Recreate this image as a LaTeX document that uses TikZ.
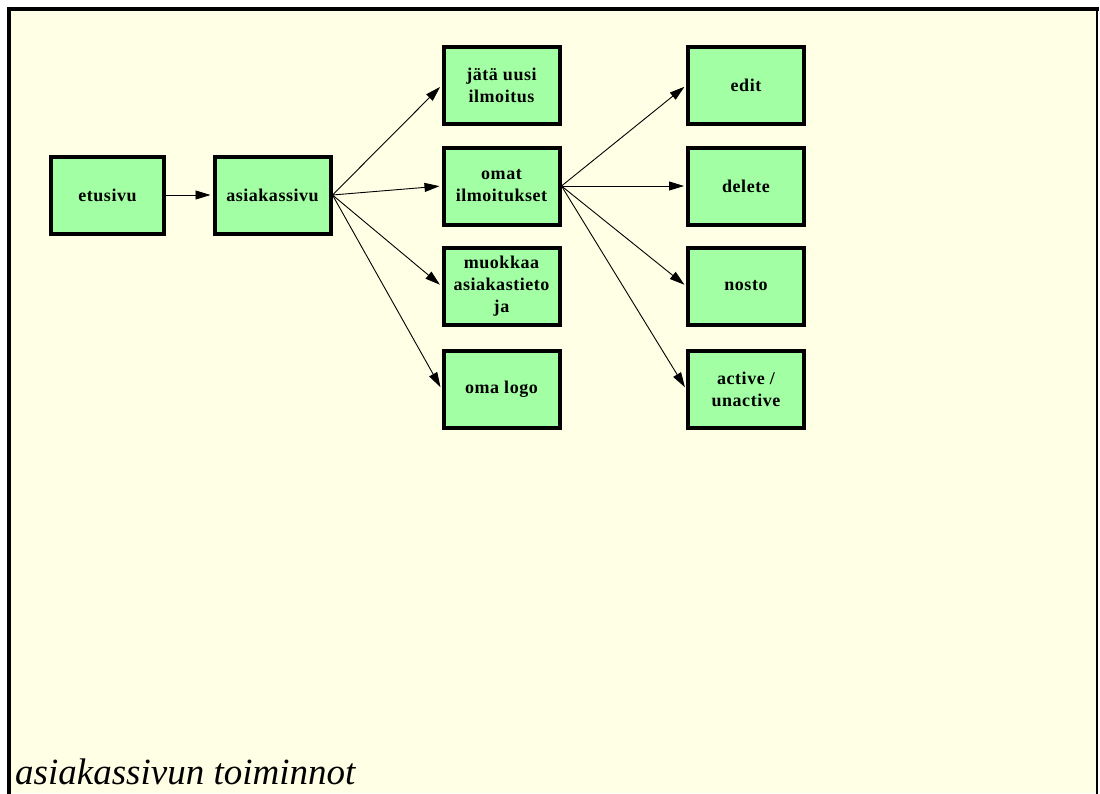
\documentclass[tikz,border=0pt]{standalone}
\usepackage{fontspec}
\setmainfont{Liberation Serif}
\usetikzlibrary{arrows.meta}
\definecolor{pagebg}{RGB}{255,255,230}
\definecolor{boxfill}{RGB}{163,255,163}

\begin{document}
\begin{tikzpicture}[x=1pt,y=-1pt,
  box/.style={draw=black, line width=4pt, fill=boxfill,
    minimum width=116pt, minimum height=77pt, inner sep=2pt, align=center,
    font=\fontsize{18}{22}\selectfont\bfseries\addfontfeatures{LetterSpace=3}},
  link/.style={line width=0.9pt, shorten >=2pt, -{Triangle[length=15pt,width=9pt]}},
  frameline/.style={line cap=rect, line join=miter}]

% page with its frame (open at the bottom)
\useasboundingbox (0,0) rectangle (1100,793);
\fill[white] (0,0) rectangle (1100,793);
\fill[pagebg] (9,9) rectangle (1098,793);
\draw[frameline, line width=4pt] (9,793) -- (9,9) -- (1097,9);
\draw[frameline, line width=2.5pt] (1097,9) -- (1097,793);

% first two levels
\node[box, minimum width=113pt] (etusivu) at (107.5,195) {etusivu};
\node[box] (asiakassivu) at (272.5,195) {asiakassivu};

% customer page functions
\node[box] (jata)    at (501.5,85.5) {jätä uusi\\ilmoitus};
\node[box] (omat)    at (501.5,186)  {omat\\ilmoitukset};
\node[box] (muokkaa) at (501.5,286)  {muokkaa\\asiakastieto\\ja};
\node[box] (logo)    at (501.5,389)  {oma logo};

% own ad functions
\node[box] (edit)   at (746,85.5) {edit};
\node[box] (delete) at (746,186)  {delete};
\node[box] (nosto)  at (746,286)  {nosto};
\node[box] (active) at (746,389)  {active /\\unactive};

% connectors
\draw[link] (etusivu.east) -- (asiakassivu.west);
\foreach \t in {jata,omat,muokkaa,logo}
  \draw[link] (asiakassivu.east) -- (\t.west);
\foreach \t in {edit,delete,nosto,active}
  \draw[link] (omat.east) -- (\t.west);

% caption
\node[anchor=base west, inner sep=0pt,
  font=\fontsize{37}{37}\selectfont\itshape]
  (caption) at (15,784) {asiakassivun toiminnot};
\end{tikzpicture}
\end{document}
